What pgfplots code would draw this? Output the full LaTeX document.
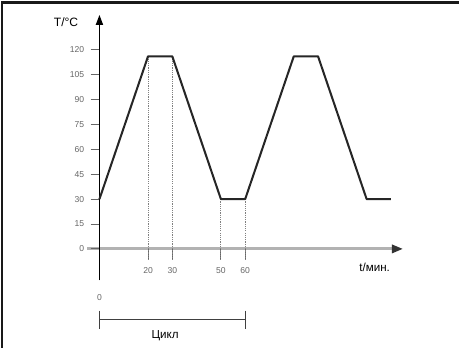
\documentclass[border=0pt]{standalone}
\usepackage{pgfplots}
\pgfplotsset{compat=1.18}
\usepackage{fontspec}
\setmainfont{Liberation Sans}
\usetikzlibrary{arrows.meta}
\begin{document}
\begin{tikzpicture}
\begin{axis}[
  x=2.4bp, y=1.64bp,
  xmin=-43.75, xmax=147.92, ymin=-59.76, ymax=153.66,
  hide axis, clip=false,
]
% frame (top and left edges)
\draw[line width=2.5bp, black!90] (-40.42,148.48) -- (147.92,148.48);
\draw[line width=2.5bp, black!90] (-40.21,149.2) -- (-40.21,-59.76);
% x axis
\draw[line width=2.8bp, black!30, -{Triangle[length=11bp,width=8bp,color=black!80]}] (-5,0) -- (125,0);
% y ticks
\pgfplotsinvokeforeach{0,15,30,45,60,75,90,105,120}{
  \draw[line width=0.9bp, black!60] (-3.6,#1) -- (0,#1);
  \node[anchor=east, font=\fontsize{8.5}{10}\selectfont, text=black!60, inner sep=0pt] at (-6.2,#1) {#1};
}
% x ticks
\pgfplotsinvokeforeach{20,30,50,60}{
  \draw[line width=0.9bp, black!60] (#1,0) -- (#1,-6.5);
  \node[font=\fontsize{8.5}{10}\selectfont, text=black!60, inner sep=0pt] at (#1,-12.8) {#1};
}
% dotted guides
\addplot[black!50, line width=0.9bp, dash pattern=on 1.2bp off 1bp] coordinates {(20,116) (20,-6.5)};
\addplot[black!50, line width=0.9bp, dash pattern=on 1.2bp off 1bp] coordinates {(30,116) (30,-6.5)};
\addplot[black!50, line width=0.9bp, dash pattern=on 1.2bp off 1bp] coordinates {(50,30) (50,-6.5)};
\addplot[black!50, line width=0.9bp, dash pattern=on 1.2bp off 1bp] coordinates {(60,30) (60,-6.5)};
% y axis
\draw[line width=1.6bp, black, -{Triangle[length=10bp,width=7bp]}] (0,-19) -- (0,141);
% temperature profile
\addplot[line width=2bp, black!85, line join=round] coordinates {
  (0,30) (20,116) (30,116) (50,30) (60,30) (80,116) (90,116) (110,30) (120,30)
};
% labels
\node[font=\fontsize{12}{14}\selectfont] at (-13.75,136.6) {T/°C};
\node[font=\fontsize{11.5}{13}\selectfont] at (113.3,-11) {t/мин.};
\node[font=\fontsize{8.5}{10}\selectfont, text=black!60, inner sep=0pt] at (0,-29.3) {0};
% cycle bracket
\draw[line width=0.9bp, black!75] (0,-42.7) -- (60,-42.7);
\draw[line width=1.2bp, black!75] (0,-37.2) -- (0,-48.2);
\draw[line width=1.2bp, black!75] (60,-37.2) -- (60,-48.2);
\node[font=\fontsize{11.5}{13}\selectfont] at (27,-52.4) {Цикл};
\end{axis}
\end{tikzpicture}
\end{document}
